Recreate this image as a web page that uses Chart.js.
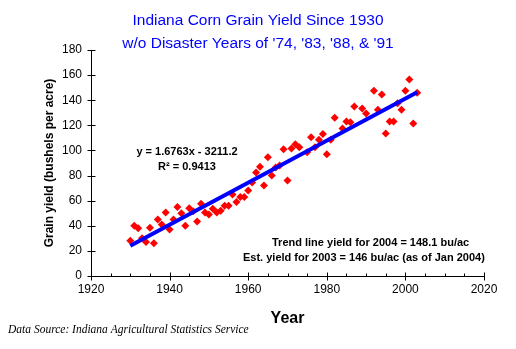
<!DOCTYPE html>
<html>
<head>
<meta charset="utf-8">
<script src="https://cdn.jsdelivr.net/npm/chart.js@4.4.1/dist/chart.umd.min.js"></script>
<style>
html,body{margin:0;padding:0;background:#ffffff;}
#wrap{width:516px;height:349px;position:relative;}
</style>
</head>
<body>
<div id="wrap"><canvas id="c" width="516" height="349"></canvas></div>
<script>
// ---- data ----
const years = [1930,1931,1932,1933,1934,1935,1936,1937,1938,1939,
  1940,1941,1942,1943,1944,1945,1946,1947,1948,1949,
  1950,1951,1952,1953,1954,1955,1956,1957,1958,1959,
  1960,1961,1962,1963,1964,1965,1966,1967,1968,1969,
  1970,1971,1972,1973,1975,1976,1977,1978,1979,
  1980,1981,1982,1984,1985,1986,1987,1989,
  1990,1992,1993,1994,1995,1996,1997,1998,1999,
  2000,2001,2002,2003];
const yields = [28,40,38,30,27,38.5,26,45,41,50.5,
  37,45,55,50,40,54,51.5,43.5,57.5,50.5,
  49,53.5,50.5,52,56,56,65,59,63,63,
  68,74.5,82.5,87,72,94.5,80,86.5,88,101,
  76,101.5,105,102.5,98.5,110.5,102.5,108.5,113,
  97,108.5,126,117.5,123,122.5,135,133.5,
  129.5,147.5,132.5,144.5,113.5,123,123,137.5,132.5,
  147.5,156.5,121.5,146];
const xTickValues = [1920,1940,1960,1980,2000,2020];
const yTickValues = [0,20,40,60,80,100,120,140,160,180];
const trendSlope = 1.6763;
const trendIntercept = -3211.2;
const trendYears = [1930,2003];
const titleLines = ["Indiana Corn Grain Yield Since 1930","w/o Disaster Years of '74, '83, '88, & '91"];
const equationText = "y = 1.6763x - 3211.2";
const r2Text = "R\u00B2 = 0.9413";
const noteLines = ["Trend line yield for 2004 = 148.1 bu/ac","Est. yield for 2003 = 146 bu/ac (as of Jan 2004)"];
const sourceText = "Data Source: Indiana Agricultural Statistics Service";
const xTitle = "Year";
const yTitle = "Grain yield (bushels per acre)";

// ---- build ----
const points = years.map((yr,i)=>({x:yr,y:yields[i]}));
const trendPoints = trendYears.map(yr=>({x:yr,y:trendSlope*yr+trendIntercept}));
const minorX = [];
for(let v=1920; v<=2020; v+=5){ if(!xTickValues.includes(v)) minorX.push(v); }

const SANS = '"Liberation Sans", Arial, sans-serif';
Chart.defaults.font.family = SANS;
Chart.defaults.color = '#000000';

const tickMarks = {
  id:'tickMarks',
  afterDatasetsDraw(chart){
    const {ctx, scales:{x,y}, chartArea:a} = chart;
    ctx.save();
    ctx.strokeStyle='#000'; ctx.lineWidth=1;
    ctx.beginPath();
    const by = Math.round(a.bottom)+0.5;
    xTickValues.forEach(v=>{const px=Math.round(x.getPixelForValue(v))+0.5; ctx.moveTo(px,by-4); ctx.lineTo(px,by+4);});
    minorX.forEach(v=>{const px=Math.round(x.getPixelForValue(v))+0.5; ctx.moveTo(px,by-3); ctx.lineTo(px,by);});
    const lx = Math.round(a.left)+0.5;
    yTickValues.forEach(v=>{const py=Math.round(y.getPixelForValue(v))+0.5; ctx.moveTo(lx-4,py); ctx.lineTo(lx+4,py);});
    ctx.stroke();
    ctx.restore();
  }
};

const texts = {
  id:'texts',
  afterDraw(chart){
    const ctx = chart.ctx;
    ctx.save();
    ctx.textBaseline='middle';
    ctx.fillStyle='#0000FF';
    ctx.textAlign='center';
    ctx.font='15.5px '+SANS;
    ctx.fillText(titleLines[0],258,21);
    ctx.fillText(titleLines[1],258,44);
    ctx.fillStyle='#000000';
    ctx.font='bold 11px '+SANS;
    ctx.fillText(equationText,187,152);
    ctx.fillText(r2Text,187,167);
    ctx.textAlign='left';
    ctx.fillText(noteLines[0],272,243);
    ctx.fillText(noteLines[1],243,258);
    ctx.font='italic 11.5px "Liberation Serif", "Times New Roman", serif';
    ctx.fillText(sourceText,8,330);
    ctx.restore();
  }
};

new Chart(document.getElementById('c'),{
  data:{
    datasets:[
      {type:'line', data:trendPoints, borderColor:'#0000FF', borderWidth:4, pointRadius:0, fill:false, order:0},
      {type:'scatter', data:points, pointStyle:'rectRot', pointRadius:4, backgroundColor:'#FF0000', borderWidth:0, order:1}
    ]
  },
  options:{
    responsive:false,
    animation:false,
    devicePixelRatio:1,
    layout:{padding:{top:50,right:32,bottom:0,left:0}},
    plugins:{legend:{display:false},tooltip:{enabled:false},title:{display:false}},
    scales:{
      x:{
        type:'linear', position:'bottom', min:1920, max:2020,
        afterBuildTicks(s){ s.ticks = xTickValues.map(v=>({value:v})); },
        afterFit(s){ s.height = 73; },
        ticks:{padding:6, font:{size:12}, color:'#000', callback:v=>String(v), maxRotation:0, autoSkip:false},
        grid:{display:false, drawTicks:false},
        border:{display:true,color:'#000',width:1},
        title:{display:true,text:xTitle,font:{size:16,weight:'bold'},color:'#000',padding:{top:0,bottom:21}}
      },
      y:{
        type:'linear', position:'left', min:0, max:180,
        afterBuildTicks(s){ s.ticks = yTickValues.map(v=>({value:v})); },
        afterFit(s){ s.width = 91; },
        ticks:{padding:9, font:{size:12}, color:'#000'},
        grid:{display:false, drawTicks:false},
        border:{display:true,color:'#000',width:1},
        title:{display:true,text:yTitle,font:{size:12,weight:'bold'},color:'#000',padding:{top:42,bottom:0}}
      }
    }
  },
  plugins:[tickMarks,texts]
});
</script>
</body>
</html>
